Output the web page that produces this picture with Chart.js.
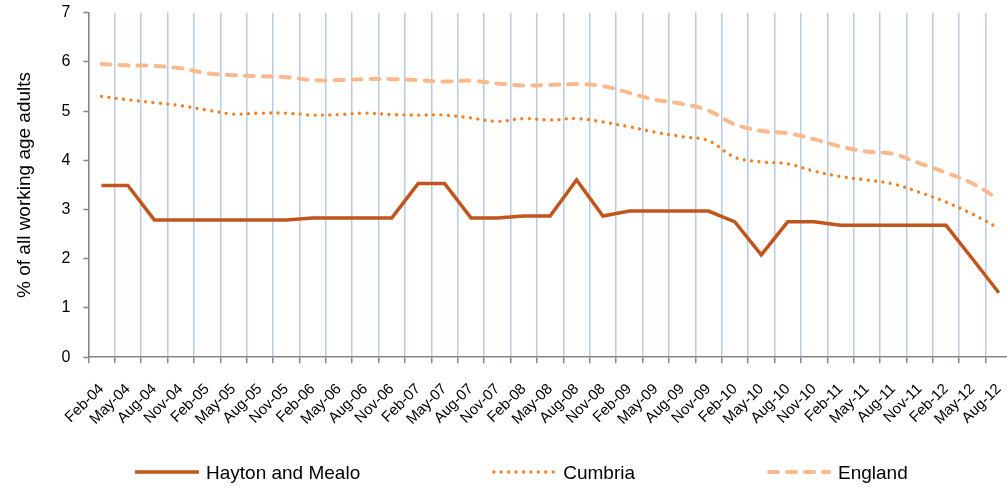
<!DOCTYPE html>
<html>
<head>
<meta charset="utf-8">
<script src="https://cdn.jsdelivr.net/npm/chart.js@4/dist/chart.umd.min.js"></script>
<style>
  html, body { margin: 0; padding: 0; background: #ffffff; overflow: hidden; }
  #wrap { position: relative; width: 1012px; height: 488px; }
</style>
</head>
<body>
<div id="wrap"><canvas id="c"></canvas></div>
<script>
const categories = ["Feb-04","May-04","Aug-04","Nov-04","Feb-05","May-05","Aug-05","Nov-05",
  "Feb-06","May-06","Aug-06","Nov-06","Feb-07","May-07","Aug-07","Nov-07",
  "Feb-08","May-08","Aug-08","Nov-08","Feb-09","May-09","Aug-09","Nov-09",
  "Feb-10","May-10","Aug-10","Nov-10","Feb-11","May-11","Aug-11","Nov-11",
  "Feb-12","May-12","Aug-12"];
const haytonAndMealo = [3.49,3.49,2.79,2.79,2.79,2.79,2.79,2.79,2.83,2.83,2.83,2.83,3.53,3.53,2.83,2.83,
  2.87,2.87,3.60,2.87,2.97,2.97,2.97,2.97,2.75,2.08,2.75,2.75,2.68,2.68,2.68,2.68,2.68,2.00,1.31];
const cumbria = [5.30,5.23,5.17,5.11,5.02,4.94,4.96,4.96,4.92,4.93,4.96,4.93,4.92,4.92,4.86,4.79,
  4.85,4.82,4.85,4.78,4.68,4.57,4.48,4.40,4.06,3.97,3.93,3.78,3.67,3.60,3.52,3.35,3.15,2.91,2.62];
const england = [5.96,5.93,5.92,5.87,5.77,5.73,5.71,5.69,5.63,5.63,5.65,5.65,5.63,5.60,5.62,5.56,
  5.52,5.53,5.55,5.51,5.37,5.23,5.15,5.01,4.73,4.60,4.55,4.43,4.28,4.18,4.13,3.94,3.75,3.53,3.21];
const seriesNames = ["Hayton and Mealo", "Cumbria", "England"];
const yTitle = "% of all working age adults";

const FONT = '"Liberation Sans", Arial, sans-serif';

const legendPlugin = {
  id: 'customLegend',
  afterDraw(chart) {
    const ctx = chart.ctx;
    ctx.save();
    ctx.font = '19px ' + FONT;
    ctx.textBaseline = 'middle';
    ctx.textAlign = 'left';
    let x = 135;
    const y = 472;
    chart.data.datasets.forEach(ds => {
      ctx.save();
      ctx.strokeStyle = ds.borderColor;
      ctx.lineWidth = ds.borderWidth;
      ctx.setLineDash(ds.borderDash || []);
      ctx.lineCap = ds.borderCapStyle || 'butt';
      const pad = ds.borderCapStyle === 'round' ? ds.borderWidth / 2 : 0;
      ctx.beginPath();
      ctx.moveTo(x + pad, y);
      ctx.lineTo(x + 64 - pad, y);
      ctx.stroke();
      ctx.restore();
      ctx.fillStyle = '#000000';
      ctx.fillText(ds.label, x + 71, y + 1.5);
      x += 71 + ctx.measureText(ds.label).width + 132;
    });
    ctx.restore();
  }
};

new Chart(document.getElementById('c'), {
  type: 'line',
  data: {
    labels: categories,
    datasets: [
      {
        label: seriesNames[0],
        data: haytonAndMealo,
        borderColor: '#C0561E',
        borderWidth: 3.5,
        tension: 0,
        pointRadius: 0,
        borderCapStyle: 'butt',
        borderJoinStyle: 'miter'
      },
      {
        label: seriesNames[1],
        data: cumbria,
        borderColor: '#F57F20',
        borderWidth: 3.3,
        borderDash: [0.01, 7.4],
        borderCapStyle: 'round',
        tension: 0.35,
        pointRadius: 0
      },
      {
        label: seriesNames[2],
        data: england,
        borderColor: '#FAB98C',
        borderWidth: 4,
        borderDash: [9, 9],
        borderCapStyle: 'round',
        tension: 0.35,
        pointRadius: 0
      }
    ]
  },
  options: {
    responsive: true,
    maintainAspectRatio: false,
    animation: false,
    layout: { padding: { top: 12.7, right: 0, bottom: 0, left: 0 } },
    plugins: {
      legend: { display: false },
      tooltip: { enabled: false },
      title: { display: false }
    },
    scales: {
      x: {
        type: 'category',
        offset: true,
        grid: {
          display: true,
          offset: true,
          drawOnChartArea: true,
          drawTicks: true,
          tickLength: 6,
          color: '#B7CCE5',
          lineWidth: 1.5,
          tickColor: '#868686',
          tickWidth: 1.5
        },
        border: { display: true, color: '#868686', width: 1.5 },
        ticks: {
          autoSkip: false,
          maxRotation: 45,
          minRotation: 45,
          color: '#000000',
          padding: 17,
          font: { family: FONT, size: 15 }
        },
        afterFit(scale) {
          scale.height = 130.8;
          scale.paddingLeft = 0;
          scale.paddingRight = 0;
        }
      },
      y: {
        min: 0,
        max: 7,
        ticks: {
          stepSize: 1,
          color: '#000000',
          padding: 13,
          font: { family: FONT, size: 16 }
        },
        grid: {
          display: true,
          drawOnChartArea: false,
          drawTicks: true,
          tickLength: 5,
          tickColor: '#868686',
          tickWidth: 1.5
        },
        border: { display: true, color: '#868686', width: 1.5 },
        title: {
          display: true,
          text: yTitle,
          color: '#000000',
          padding: { top: 13.6, bottom: 0 },
          font: { family: FONT, size: 19 }
        },
        afterFit(scale) {
          scale.width = 88.3;
          scale.paddingTop = 0;
          scale.paddingBottom = 0;
        }
      }
    }
  },
  plugins: [legendPlugin]
});
</script>
</body>
</html>
